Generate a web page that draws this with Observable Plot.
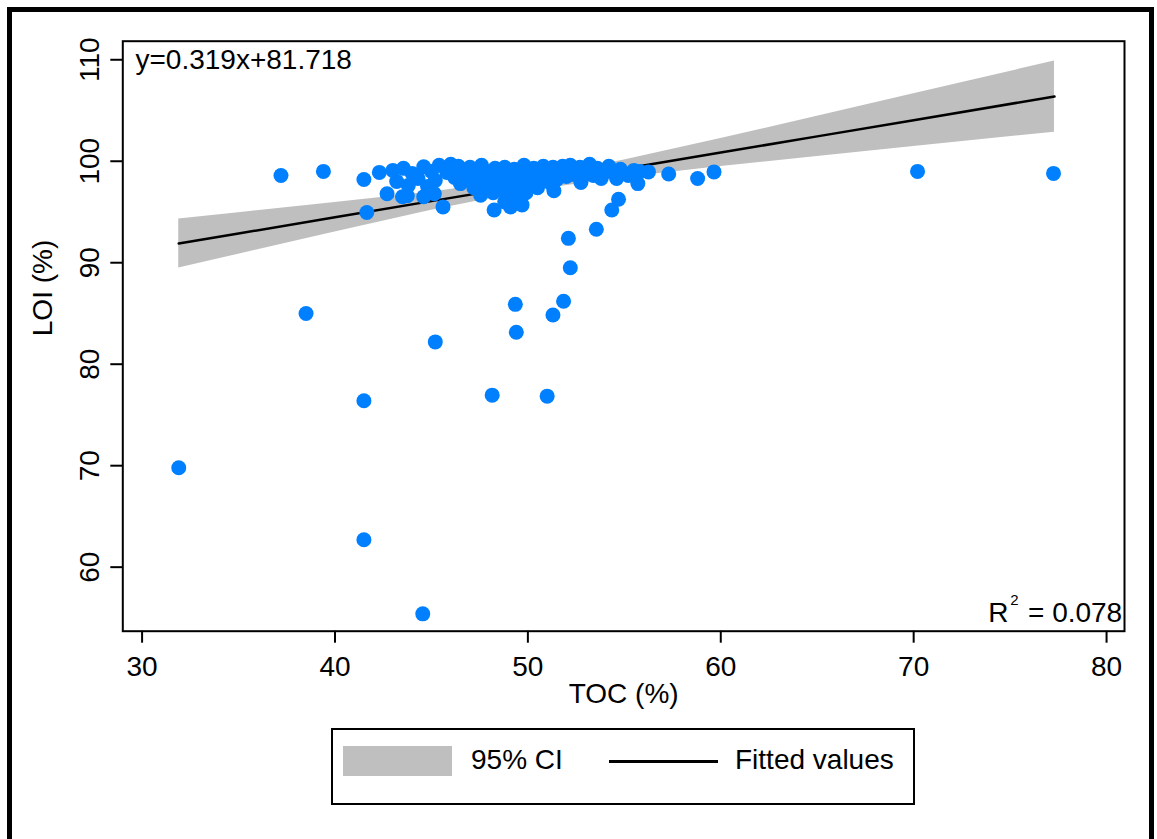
<!DOCTYPE html>
<html><head><meta charset="utf-8">
<script src="https://cdn.jsdelivr.net/npm/d3@7"></script>
<script src="https://cdn.jsdelivr.net/npm/@observablehq/plot@0.6"></script>
<style>
html,body{margin:0;padding:0;overflow:hidden;background:#fff;width:1157px;height:839px;}
#outer{position:absolute;left:7px;top:7px;width:1147px;height:850px;border:5px solid #000;box-sizing:border-box;}
#chart{position:absolute;left:0;top:0;}
#legend{position:absolute;left:331px;top:728px;width:584px;height:77px;border:2px solid #000;box-sizing:border-box;font-family:"Liberation Sans",Arial,sans-serif;font-size:28px;color:#000;background:#fff;}
#legend .sw{position:absolute;left:10px;top:16px;width:109px;height:30px;background:#bfbfbf;}
#legend .ln{position:absolute;left:276px;top:30px;width:109px;height:2.5px;background:#000;}
#legend .t1{position:absolute;left:138px;top:14px;line-height:32px;}
#legend .t2{position:absolute;left:402px;top:14px;line-height:32px;}
</style>
</head><body>
<div id="outer"></div>
<div id="chart"></div>
<div id="legend"><div class="sw"></div><span class="t1">95% CI</span><div class="ln"></div><span class="t2">Fitted values</span></div>
<script>
// Scatter data: TOC (%) and LOI (%)
const toc = [
 31.9, 37.2, 39.4, 38.5, 41.5, 41.65, 41.5, 41.5, 44.55, 45.2,
 48.15, 51.0, 49.35, 49.4, 51.3, 51.85, 52.2, 52.1, 53.55, 54.35,
 54.7, 55.7, 56.25, 57.3, 58.8, 59.65, 70.2, 77.25,
 42.3, 42.7, 43.0, 43.55, 43.5, 44.6, 44.6, 43.75, 45.15, 45.6,
 47.55, 48.25, 49.1, 49.7, 51.35, 52.75, 53.8,
 45.4, 46.0, 46.4, 47.0, 47.6, 48.3, 48.8, 49.3, 49.8, 50.3,
 50.8, 51.3, 51.8, 52.2, 52.7, 53.2, 53.6, 54.2, 54.8, 55.5,
 44.0, 45.0, 45.8, 46.6, 47.2, 47.8, 48.5, 49.0, 49.6, 50.1,
 50.6, 51.1, 51.6, 52.4, 53.0, 53.4, 53.9, 54.5, 55.2, 55.8,
 43.2, 44.3, 45.2, 46.2, 46.9, 47.4, 48.0, 48.6, 49.2, 49.7,
 50.2, 50.7, 51.5, 52.0, 52.8, 54.6,
 43.8, 44.8, 46.5, 47.2, 47.9, 48.4, 48.9, 49.5, 50.0, 50.5, 51.2,
 48.2, 49.0, 49.4, 49.9, 48.8
];
const loi = [
 69.8, 98.6, 99.0, 85.0, 98.2, 94.95, 76.4, 62.7, 55.4, 82.2,
 76.95, 76.85, 85.9, 83.15, 84.85, 86.2, 89.5, 92.4, 93.3, 95.2,
 96.25, 97.8, 98.95, 98.75, 98.3, 98.95, 99.0, 98.8,
 98.9, 96.8, 99.1, 99.3, 96.5, 99.45, 96.5, 96.6, 96.8, 95.5,
 96.65, 95.2, 95.5, 95.7, 97.1, 97.9, 98.3,
 99.6, 99.7, 99.5, 99.4, 99.6, 99.3, 99.4, 99.2, 99.6, 99.3,
 99.5, 99.4, 99.5, 99.6, 99.4, 99.7, 99.3, 99.5, 99.2, 99.1,
 98.8, 99.0, 98.9, 99.1, 98.8, 99.0, 98.9, 99.1, 98.7, 99.0,
 98.8, 99.0, 98.9, 98.7, 98.9, 98.6, 98.8, 98.9, 98.6, 99.0,
 98.0, 98.3, 98.1, 98.4, 98.2, 97.9, 98.3, 98.0, 98.4, 98.1,
 98.3, 98.0, 98.2, 98.5, 98.4, 98.3,
 97.6, 97.5, 97.8, 97.4, 97.6, 97.2, 97.7, 97.3, 97.6, 97.4, 97.8,
 96.9, 96.7, 96.4, 96.9, 96.0
];
// Fitted line and 95% CI band
const bandX  = [31.9, 35, 40, 45, 50, 55, 60, 65, 70, 77.3];
const bandLo = [89.47, 90.84, 93.03, 95.17, 97.07, 98.41, 99.48, 100.48, 101.46, 102.87];
const bandHi = [94.32, 94.93, 95.93, 96.98, 98.27, 100.12, 102.24, 104.43, 106.64, 109.88];
const fitY   = [91.89, 92.88, 94.48, 96.07, 97.67, 99.26, 100.86, 102.45, 104.05, 106.38];
const xTicks = [30, 40, 50, 60, 70, 80];
const yTicks = [60, 70, 80, 90, 100, 110];
const eqText = "y=0.319x+81.718";
const r2Value = " = 0.078";

const points = toc.map((t, i) => ({toc: t, loi: loi[i]}));
const band = bandX.map((x, i) => ({x, lo: bandLo[i], hi: bandHi[i], fit: fitY[i]}));

const W = 1157, H = 712;
const font = "Liberation Sans, Arial, sans-serif";
const chart = Plot.plot({
  width: W, height: H,
  marginLeft: 122.3, marginRight: 33, marginTop: 40.7, marginBottom: H - 630.7,
  x: {domain: [29, 80.93]},
  y: {domain: [53.69, 111.83]},
  style: {fontFamily: font, fontSize: "28px", color: "#000", background: "transparent", overflow: "visible"},
  marks: [
    Plot.areaY(band, {x: "x", y1: "lo", y2: "hi", fill: "#bfbfbf"}),
    Plot.line(band, {x: "x", y: "fit", stroke: "#000", strokeWidth: 2.5}),
    Plot.dot(points, {x: "toc", y: "loi", r: 7.5, fill: "#0080ff", stroke: "none"}),
    Plot.frame({stroke: "#000", strokeWidth: 2}),
    Plot.axisX({ticks: xTicks, tickSize: 12, tickPadding: 13, fontSize: 28, strokeWidth: 2, label: null}),
    Plot.axisY({ticks: yTicks, tickSize: 12, tickPadding: 12, tickRotate: -90, fontSize: 28, strokeWidth: 2, label: null}),
    Plot.text(["TOC (%)"], {frameAnchor: "bottom", dy: 63, fontSize: 28, lineAnchor: "middle"}),
    Plot.text(["LOI (%)"], {frameAnchor: "left", dx: -80, rotate: -90, fontSize: 28, lineAnchor: "middle"}),
    Plot.text([eqText], {frameAnchor: "top-left", dx: 12.7, dy: 7.5, textAnchor: "start", lineAnchor: "top", fontSize: 28}),
    Plot.text([r2Value], {frameAnchor: "bottom-right", dx: -2.3, dy: -9.7, textAnchor: "end", lineAnchor: "bottom", fontSize: 28}),
    Plot.text(["2"], {frameAnchor: "bottom-right", dx: -106, dy: -26.7, textAnchor: "end", lineAnchor: "bottom", fontSize: 15}),
    Plot.text(["R"], {frameAnchor: "bottom-right", dx: -116, dy: -9.7, textAnchor: "end", lineAnchor: "bottom", fontSize: 28})
  ]
});
document.getElementById("chart").appendChild(chart);
</script>
</body></html>
